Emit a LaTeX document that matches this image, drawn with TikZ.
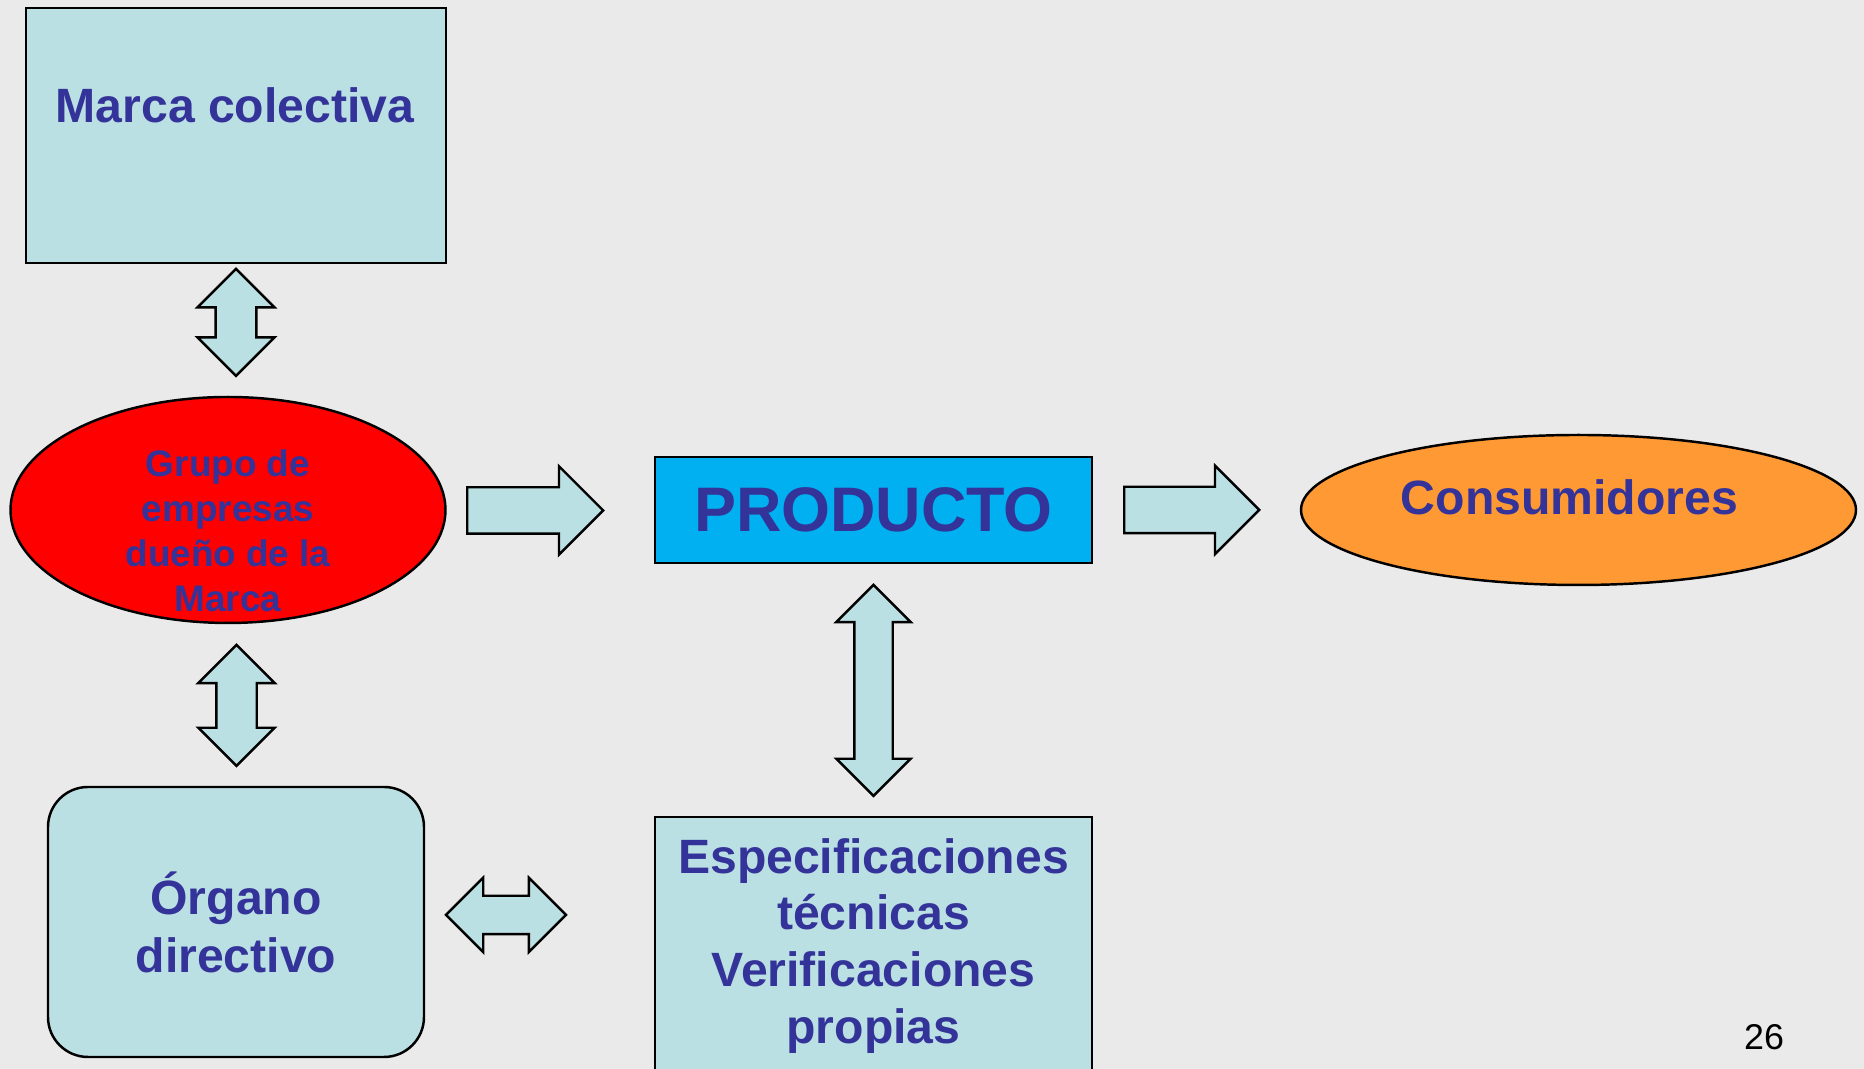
\documentclass[tikz,border=0pt]{standalone}
\usepackage{fontspec}
\setmainfont{Liberation Sans}
\usepackage{tikz}
\usetikzlibrary{shapes.geometric,shapes.arrows}

\definecolor{slidebg}{HTML}{EAEAEA}
\definecolor{paleblue}{HTML}{BBE0E3}
\definecolor{textblue}{HTML}{333399}
\definecolor{skyblue}{HTML}{00B0F0}
\definecolor{orangefill}{HTML}{FF9933}

\tikzset{
  box/.style={draw=black, line width=0.7pt, fill=paleblue, inner sep=0pt},
  oval/.style={ellipse, draw=black, line width=0.7pt, inner sep=0pt},
  txt/.style={text=textblue, align=center, font=\bfseries\fontsize{13.7}{16.5}\selectfont},
  dblarrow/.style={shape=double arrow, double arrow tip angle=90, draw=black, line width=0.7pt, fill=paleblue, inner xsep=0pt},
  sglarrow/.style={shape=single arrow, single arrow tip angle=90, draw=black, line width=0.7pt, fill=paleblue, inner xsep=0pt, anchor=tail}
}

\begin{document}
\begin{tikzpicture}
\fill[slidebg, use as bounding box] (0,0) rectangle (18.64,10.69);

% Marca colectiva
\node[box, minimum width=4.20cm, minimum height=2.55cm] (marca) at (2.36,9.335) {};
\node[txt, anchor=base] (marcatxt) at (2.35,9.46) {Marca colectiva};
\node[dblarrow, rotate=90, minimum height=1.07cm, minimum width=0.77cm, inner ysep=0.19cm, double arrow head extend=0.18cm] (arrmarca) at (2.36,7.465) {};

% Grupo de empresas
\node[oval, fill=red, minimum width=4.35cm, minimum height=2.26cm] (grupo) at (2.28,5.59) {};
\node[txt, font=\bfseries\fontsize{10.5}{12.8}\selectfont] (grupotxt) at (2.28,5.38) {Grupo de\\empresas\\dueño de la\\Marca};
\node[sglarrow, minimum height=1.36cm, minimum width=0.88cm, inner ysep=0.22cm, single arrow head extend=0.21cm] (arrgrupo) at (4.66,5.585) {};

% Producto
\node[box, fill=skyblue, minimum width=4.37cm, minimum height=1.06cm, txt, font=\bfseries\fontsize{17.9}{20}\selectfont] (producto) at (8.735,5.59) {PRODUCTO};
\node[sglarrow, minimum height=1.35cm, minimum width=0.88cm, inner ysep=0.22cm, single arrow head extend=0.21cm] (arrproducto) at (11.23,5.59) {};

% Consumidores
\node[oval, fill=orangefill, minimum width=5.55cm, minimum height=1.50cm] (consum) at (15.785,5.59) {};
\node[txt] (consumtxt) at (15.695,5.72) {Consumidores};

% lower row
\node[dblarrow, rotate=90, minimum height=2.11cm, minimum width=0.74cm, inner ysep=0.18cm, double arrow head extend=0.18cm] (arrespec) at (8.735,3.785) {};
\node[dblarrow, rotate=90, minimum height=1.21cm, minimum width=0.76cm, inner ysep=0.19cm, double arrow head extend=0.18cm] (arrorgano) at (2.365,3.635) {};

\node[box, rounded corners=0.4cm, minimum width=3.76cm, minimum height=2.70cm, txt] (organo) at (2.36,1.47) {Órgano\\directivo};
\node[dblarrow, minimum height=1.20cm, minimum width=0.73cm, inner ysep=0.18cm, double arrow head extend=0.18cm] (arrlink) at (5.06,1.54) {};

\node[box, minimum width=4.37cm, minimum height=2.82cm] (espec) at (8.735,1.11) {};
\node[txt, anchor=north, font=\bfseries\fontsize{13.7}{16.1}\selectfont] (espectxt) at (8.735,2.43) {Especificaciones\\técnicas\\Verificaciones\\propias};

% page number
\node[font=\fontsize{10.2}{12}\selectfont] (pagenum) at (17.64,0.32) {26};

\end{tikzpicture}
\end{document}
